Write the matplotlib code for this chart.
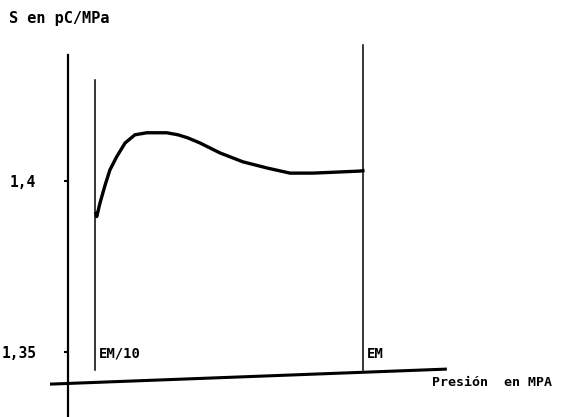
import numpy as np
import matplotlib
matplotlib.use("Agg")
import matplotlib.pyplot as plt

# presion como fraccion de EM, sensibilidad S en pC/MPa
presion = [0.103, 0.106, 0.117, 0.134, 0.150, 0.173, 0.201, 0.234, 0.274, 0.341,
           0.379, 0.412, 0.453, 0.520, 0.597, 0.678, 0.755, 0.832, 0.913, 0.990, 1.0]
sens = [1.3905, 1.3896, 1.3936, 1.3988, 1.4032, 1.4071, 1.4111, 1.4135, 1.4141, 1.4141,
        1.4135, 1.4126, 1.4111, 1.4082, 1.4056, 1.4038, 1.4023, 1.4023, 1.4026, 1.4029, 1.4030]

yticks = [1.35, 1.4]
ylabels = ["1,35", "1,4"]
marcas = [0.1, 1.0]
marca_txt = ["EM/10", "EM"]

fig = plt.figure(figsize=(5.74, 4.17), dpi=100)
ax = fig.add_axes([0, 0, 1, 1])
ax.set_xlim(-0.219, 1.709)
ax.set_ylim(1.33099, 1.45292)

for s in ["top", "right", "bottom"]:
    ax.spines[s].set_visible(False)
ax.spines["left"].set_position(("data", 0.01))
ax.spines["left"].set_bounds(1.33099, 1.4368)
ax.spines["left"].set_linewidth(1.6)
ax.set_xticks([])
ax.set_yticks(yticks)
ax.set_yticklabels(ylabels, family="DejaVu Sans Mono", fontsize=10.5, fontweight="bold")
ax.tick_params(axis="y", direction="out", length=3, width=1.5, pad=20)

# eje de presion (ligeramente inclinado en el original)
ax.plot([-0.051, 1.282], [1.3406, 1.3450], color="black", lw=2.2, solid_capstyle="butt")

# lineas verticales EM/10 y EM
ax.plot([marcas[0], marcas[0]], [1.3447, 1.4295], color="black", lw=1.1)
ax.plot([marcas[1], marcas[1]], [1.3447, 1.4398], color="black", lw=1.1)
for xm, t in zip(marcas, marca_txt):
    ax.text(xm + 0.012, 1.3475, t, family="DejaVu Sans Mono", fontsize=10,
            fontweight="bold", ha="left", va="bottom")

ax.plot(presion, sens, color="black", lw=2.4, solid_joinstyle="round")

ax.text(-0.19, 1.4475, "S en pC/MPa", family="DejaVu Sans Mono", fontsize=11,
        fontweight="bold", ha="left", va="center")
ax.text(1.232, 1.3410, "Presión  en MPA", family="DejaVu Sans Mono", fontsize=9.5,
        fontweight="bold", ha="left", va="center")

fig.savefig("out.png", dpi=100, facecolor="white")
